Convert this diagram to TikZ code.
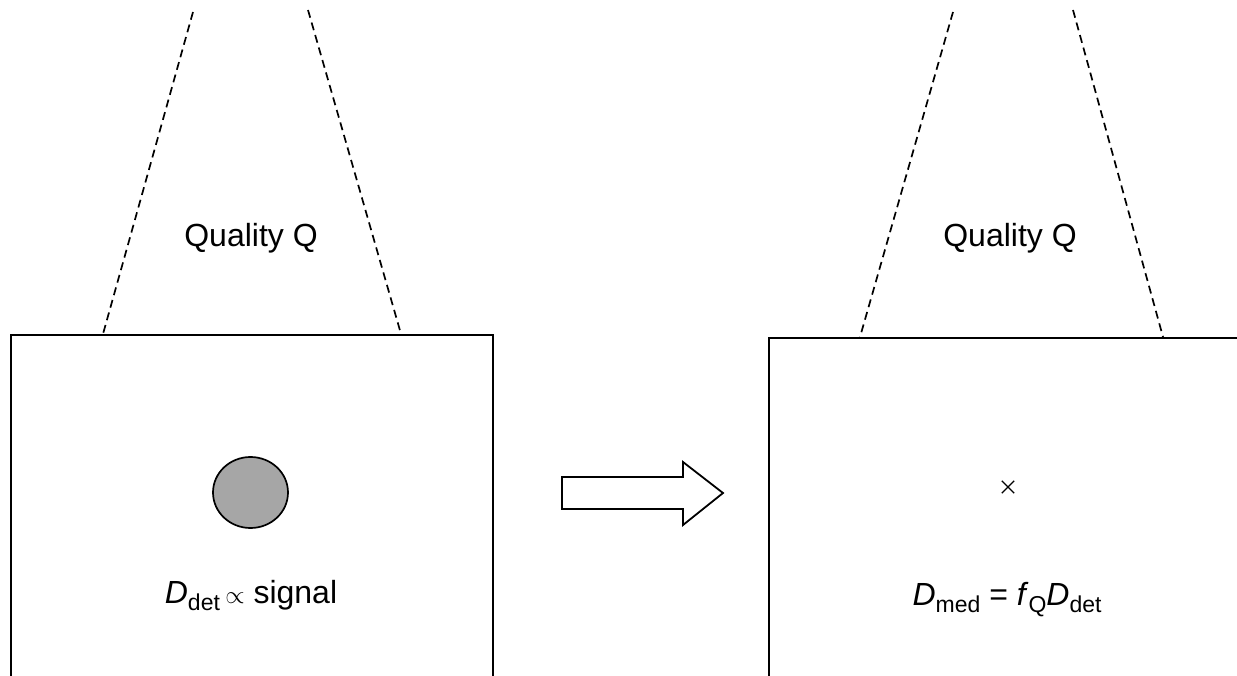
\documentclass[tikz,border=0pt]{standalone}
\usepackage{fontspec}
\setmainfont{Liberation Sans}
\usetikzlibrary{shapes.geometric}
\newcommand\lowsub[1]{\raisebox{-0.22em}{\fontsize{23}{23}\selectfont #1}}
\begin{document}
\begin{tikzpicture}[x=1pt,y=-1pt,
  frame/.style={draw=black, line width=1.8pt, anchor=north west, inner sep=0pt},
  beam/.style={draw=black, line width=1.7pt, dash pattern=on 8pt off 5pt},
  lbl/.style={font=\fontsize{32}{36}\selectfont, inner sep=0pt, anchor=base},
  spot/.style={draw=black, line width=1.7pt, fill=black!35, ellipse, inner sep=0pt},
  bigarrow/.style={draw=black, line width=1.8pt, fill=white, line join=miter}
]
\useasboundingbox (0,0) rectangle (1237,676);
\clip (0,0) rectangle (1237,676);

% boxes
\node[frame, minimum width=482pt, minimum height=400pt] (leftbox) at (10,334) {};
\node[frame, minimum width=500pt, minimum height=400pt] (rightbox) at (768,337) {};

% beam edges
\coordinate (l1) at (193,12);
\coordinate (l2) at (308,10);
\coordinate (r1) at (953,12);
\coordinate (r2) at (1073,10);
\coordinate (lb1) at (103,334);
\coordinate (lb2) at (401,334);
\coordinate (rb1) at (860,337);
\coordinate (rb2) at (1163,337);
\draw[beam] (l1) -- (lb1);
\draw[beam] (l2) -- (lb2);
\draw[beam] (r1) -- (rb1);
\draw[beam] (r2) -- (rb2);

% labels
\node[lbl] (qleft) at (251,247) {Quality Q};
\node[lbl] (qright) at (1010,247) {Quality Q};

% spot
\node[spot, minimum width=75pt, minimum height=71pt] (spot) at (250.5,492.5) {};

% cross
\node[inner sep=0pt, minimum size=12pt] (cross) at (1008,487) {};
\draw[line width=1.2pt] (cross.north west) -- (cross.south east) (cross.south west) -- (cross.north east);

\node[lbl] (detlabel) at (251,603) {\textit{D}\lowsub{det}\,$\propto$ signal};
\node[lbl] (medlabel) at (1007,605) {\textit{D}\lowsub{med} = \textit{f}\lowsub{Q}\textit{D}\lowsub{det}};

% block arrow
\draw[bigarrow] (562,477) -- (683,477) -- (683,462) -- (723,493) -- (683,525) -- (683,509) -- (562,509) -- cycle;
\end{tikzpicture}
\end{document}
